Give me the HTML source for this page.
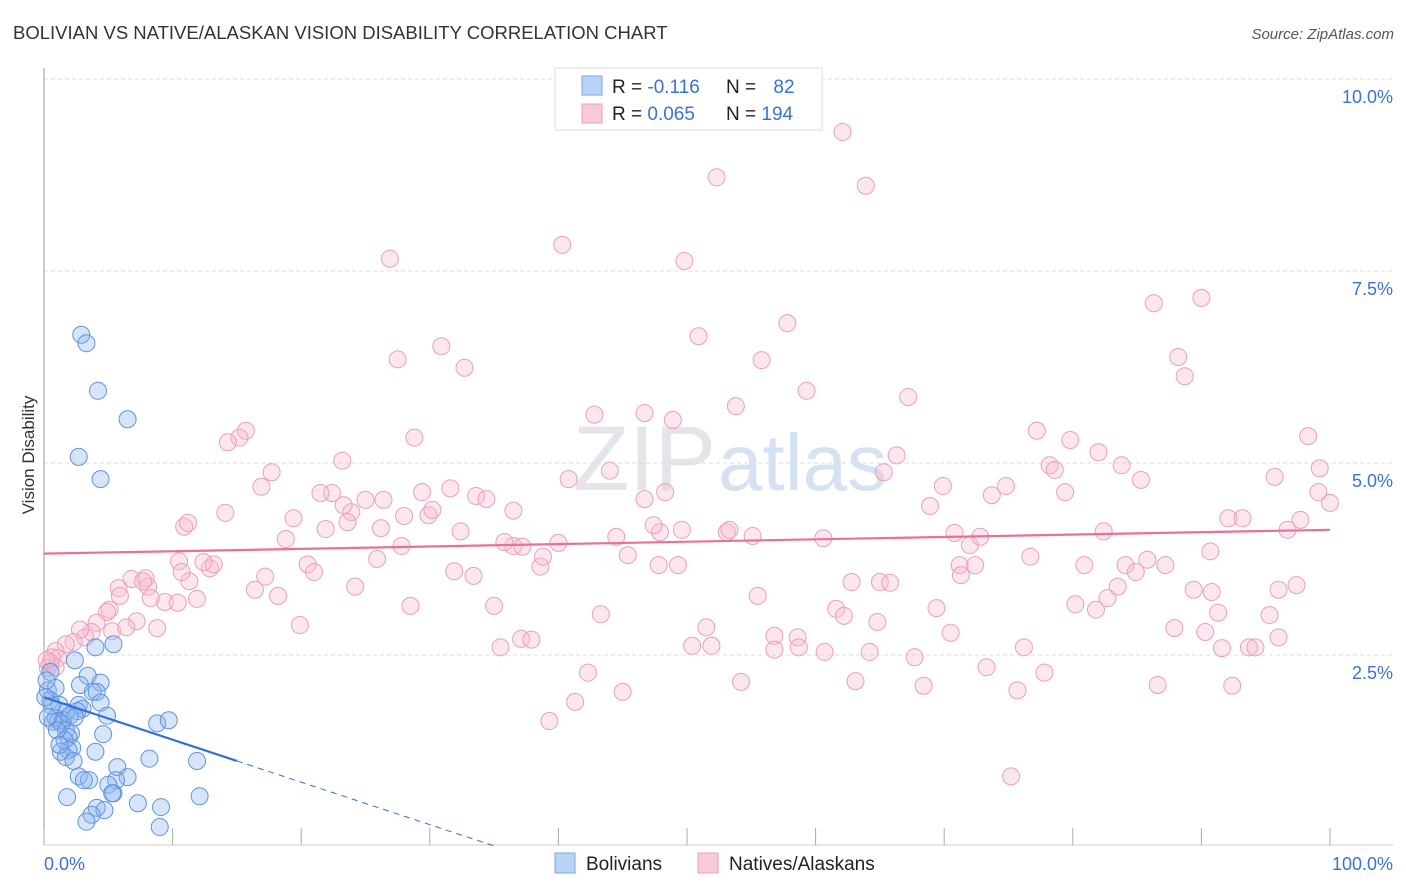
<!DOCTYPE html>
<html><head><meta charset="utf-8"><style>
body{margin:0;background:#fff;font-family:"Liberation Sans",sans-serif;}
#wrap{position:relative;width:1406px;height:892px;overflow:hidden;}
svg text{font-family:"Liberation Sans",sans-serif;}
</style></head><body>
<div id="wrap">
<svg id="svg" width="1406" height="892" xmlns="http://www.w3.org/2000/svg">
<text x="13" y="39" font-size="18.5" fill="#333">BOLIVIAN VS NATIVE/ALASKAN VISION DISABILITY CORRELATION CHART</text>
<text x="1394" y="39" font-size="15" fill="#555" font-style="italic" text-anchor="end">Source: ZipAtlas.com</text>
<text x="716" y="490" font-size="92" fill="#e4e4ea" text-anchor="end" font-family="Liberation Serif,serif">ZIP</text>
<text x="718" y="490" font-size="80" fill="#d6e2f3">atlas</text>
<text x="34" y="455" font-size="17" fill="#333" text-anchor="middle" transform="rotate(-90 34 455)">Vision Disability</text>
<g id="grid"></g><g id="marks"></g>
<g>
<rect x="555" y="68" width="267" height="62" fill="#fff" stroke="#ddd"/>
<rect x="582" y="76" width="20" height="19" fill="#b9d3f5" stroke="#7aa6e6"/>
<rect x="582" y="104" width="20" height="19" fill="#f9c9d7" stroke="#eda0b8"/>
<text x="612" y="93" font-size="19" fill="#222">R = <tspan fill="#3a73d3">-0.116</tspan></text>
<text x="726" y="93" font-size="19" fill="#222">N = <tspan fill="#3a73d3" dx="12">82</tspan></text>
<text x="612" y="120" font-size="19" fill="#222">R = <tspan fill="#3a73d3">0.065</tspan></text>
<text x="726" y="120" font-size="19" fill="#222">N = <tspan fill="#3a73d3">194</tspan></text>
</g>
<g>
<rect x="555" y="853" width="20" height="20" fill="#b9d3f5" stroke="#7aa6e6"/>
<text x="586" y="870" font-size="19" fill="#222">Bolivians</text>
<rect x="698" y="853" width="20" height="20" fill="#f9c9d7" stroke="#eda0b8"/>
<text x="729" y="870" font-size="19" fill="#222">Natives/Alaskans</text>
</g>
</svg></div>
<script>
const yTicks=[2.5,5.0,7.5,10.0];
const yTickLabels=["2.5%","5.0%","7.5%","10.0%"];
const xTicks=[0,10,20,30,40,50,60,70,80,90,100];
const xEndLabels=["0.0%","100.0%"];
const pinkX=[62.1,52.3,63.9,40.3,26.9,49.8,90.0,86.3,57.8,50.9,27.5,30.9,55.8,32.7,88.2,88.7,59.3,67.2,42.8,46.7,48.9,53.8,28.8,15.7,15.2,14.3,77.2,79.8,98.3,82.0,78.2,78.6,83.8,99.2,95.7,85.3,99.1,100.0,92.1,93.2,97.7,96.7,90.7,82.4,65.3,66.3,69.9,68.9,74.8,73.7,79.4,70.8,72.0,72.8,76.7,80.9,84.1,84.9,85.8,87.2,89.4,90.8,91.3,95.3,96.0,97.4,81.8,82.7,83.5,80.2,71.2,72.4,71.3,69.4,70.5,76.2,77.8,73.3,75.7,75.2,86.6,92.4,91.6,93.7,96.0,94.2,87.9,90.3,65.0,62.8,65.8,61.6,62.2,64.8,64.2,60.7,58.6,56.8,56.8,58.7,63.1,67.7,68.4,54.2,51.9,51.5,50.4,42.3,41.3,45.0,39.3,43.3,35.5,37.1,37.9,35.0,28.5,24.2,25.9,27.8,31.9,33.4,36.5,38.6,38.8,40.0,37.2,35.8,44.5,45.4,47.9,47.4,49.3,47.8,53.1,53.3,55.1,55.5,60.6,46.7,40.8,44.0,48.3,49.6,33.6,34.4,36.5,29.9,30.2,28.0,29.4,31.6,32.4,26.4,26.2,25.0,23.9,23.3,22.4,21.5,21.9,23.6,23.2,17.7,16.9,14.1,10.9,19.4,18.8,20.5,21.0,17.2,16.4,18.2,19.9,12.9,13.2,12.4,11.3,10.5,11.9,9.4,10.4,6.8,5.8,7.9,8.1,8.3,8.8,7.2,5.9,5.1,4.9,4.1,5.3,6.4,3.7,3.2,2.8,2.3,1.7,0.9,1.1,0.5,0.3,0.9,0.6,0.2,10.7,7.7,11.2];
const pinkY=[9.31,8.72,8.61,7.84,7.66,7.63,7.15,7.08,6.82,6.65,6.35,6.52,6.34,6.24,6.38,6.13,5.94,5.86,5.63,5.65,5.56,5.74,5.33,5.42,5.33,5.27,5.42,5.30,5.35,5.14,4.97,4.91,4.97,4.93,4.82,4.78,4.62,4.48,4.28,4.28,4.26,4.13,3.85,4.11,4.88,5.10,4.70,4.44,4.70,4.58,4.62,4.09,3.93,4.04,3.78,3.67,3.67,3.58,3.74,3.67,3.35,3.32,3.05,3.02,3.35,3.41,3.09,3.24,3.39,3.16,3.67,3.67,3.54,3.11,2.79,2.60,2.27,2.34,2.04,0.92,2.11,2.10,2.59,2.60,2.73,2.60,2.85,2.80,3.45,3.45,3.44,3.10,3.01,2.93,2.54,2.54,2.73,2.75,2.57,2.60,2.16,2.47,2.10,2.15,2.62,2.86,2.62,2.27,1.89,2.02,1.64,3.03,2.60,2.71,2.70,3.14,3.14,3.39,3.75,3.92,3.59,3.53,3.92,3.65,3.78,3.96,3.91,3.97,4.04,3.80,4.10,4.19,3.67,3.67,4.10,4.13,4.05,3.27,4.02,4.53,4.79,4.90,4.62,4.13,4.57,4.53,4.38,4.32,4.39,4.31,4.62,4.67,4.11,4.52,4.15,4.52,4.36,4.45,4.61,4.61,4.14,4.23,5.03,4.88,4.69,4.35,4.17,4.28,4.01,3.68,3.58,3.52,3.35,3.27,2.89,3.63,3.68,3.71,3.46,3.72,3.23,3.19,3.18,3.49,3.37,3.50,3.39,3.24,2.85,2.94,3.27,3.09,3.06,2.92,2.81,2.86,2.80,2.73,2.83,2.67,2.64,2.55,2.46,2.40,2.33,2.34,2.47,2.43,3.58,3.46,4.22];
const blueX=[2.9,3.3,4.2,6.5,2.7,4.4,4.0,5.4,2.4,3.4,4.4,0.5,0.3,0.9,2.8,0.2,3.8,4.1,4.4,1.2,2.7,3.0,2.6,1.7,0.9,1.5,1.1,2.0,2.4,4.9,0.7,1.4,1.7,2.1,1.9,1.6,8.8,9.7,4.6,2.2,1.9,1.3,1.7,4.0,8.2,11.9,5.7,2.3,6.5,2.7,3.5,3.1,5.6,5.0,5.4,5.3,1.8,7.3,9.1,4.1,12.1,4.7,3.7,3.3,9.0,0.5,0.6,0.1,1.0,0.3,1.2];
const blueY=[6.67,6.56,5.94,5.57,5.08,4.79,2.60,2.64,2.43,2.23,2.14,2.28,2.04,2.07,2.11,2.17,2.02,2.02,1.88,1.85,1.85,1.80,1.77,1.76,1.68,1.65,1.64,1.71,1.69,1.71,1.63,1.61,1.52,1.48,1.43,1.39,1.61,1.65,1.47,1.29,1.26,1.24,1.17,1.24,1.15,1.12,1.04,1.12,0.91,0.92,0.87,0.87,0.87,0.81,0.70,0.70,0.65,0.57,0.52,0.51,0.66,0.48,0.42,0.33,0.26,1.91,1.84,1.95,1.52,1.69,1.33];
const pinkTrend=[3.82,4.13];
const blueTrend=[1.95,-0.0553];
const blueSolidEnd=15;

const X0=44,X1=1330,Y0=847,YTOP=79;
const sx=v=>X0+(X1-X0)*v/100;
const sy=v=>Y0-(Y0-YTOP)*v/10;
const NS="http://www.w3.org/2000/svg";
function mk(tag,attrs,parent){const e=document.createElementNS(NS,tag);for(const k in attrs)e.setAttribute(k,attrs[k]);parent.appendChild(e);return e;}
const grid=document.getElementById('grid'),marks=document.getElementById('marks');
yTicks.forEach((t,i)=>{
  const l=mk('line',{x1:X0,x2:1393,y1:sy(t),y2:sy(t),stroke:'#ddd','stroke-dasharray':'4,3'},grid);
  
  
  const tx=mk('text',{x:1393,y:sy(t)+24,'font-size':18,fill:'#3a73d3','text-anchor':'end'},grid);
  tx.textContent=yTickLabels[i];
  
  
});
let a=mk('line',{x1:X0,x2:X0,y1:68,y2:845,stroke:'#999'},grid);


a=mk('line',{x1:X0,x2:1393,y1:845,y2:845,stroke:'#ccc'},grid);


xTicks.forEach(t=>{
  const l=mk('line',{x1:sx(t),x2:sx(t),y1:828,y2:845,stroke:'#aaa'},grid);
  
  
});
let t=mk('text',{x:44,y:870,'font-size':18,fill:'#3a73d3'},grid);t.textContent=xEndLabels[0];


t=mk('text',{x:1393,y:870,'font-size':18,fill:'#3a73d3','text-anchor':'end'},grid);t.textContent=xEndLabels[1];



pinkX.forEach((x,i)=>{
  const c=mk('circle',{cx:sx(x),cy:sy(pinkY[i]),r:8.5,fill:'rgba(248,185,205,0.35)',stroke:'#eb9fb8','stroke-width':1},marks);
  
  
});
blueX.forEach((x,i)=>{
  const c=mk('circle',{cx:sx(x),cy:sy(blueY[i]),r:8.5,fill:'rgba(140,180,240,0.35)',stroke:'#5f93e2','stroke-width':1},marks);
  
  
});
let p=mk('line',{x1:sx(0),y1:sy(pinkTrend[0]),x2:sx(100),y2:sy(pinkTrend[1]),stroke:'#e8709a','stroke-width':2.2},marks);


const by=x=>blueTrend[0]+blueTrend[1]*x;
const zeroX=-blueTrend[0]/blueTrend[1];
p=mk('line',{x1:sx(0),y1:sy(by(0)),x2:sx(blueSolidEnd),y2:sy(by(blueSolidEnd)),stroke:'#2f6fd8','stroke-width':2.2},marks);


p=mk('line',{x1:sx(blueSolidEnd),y1:sy(by(blueSolidEnd)),x2:sx(zeroX),y2:sy(0),stroke:'#2f6fd8','stroke-width':1,'stroke-dasharray':'6,5'},marks);


</script>
</body></html>
